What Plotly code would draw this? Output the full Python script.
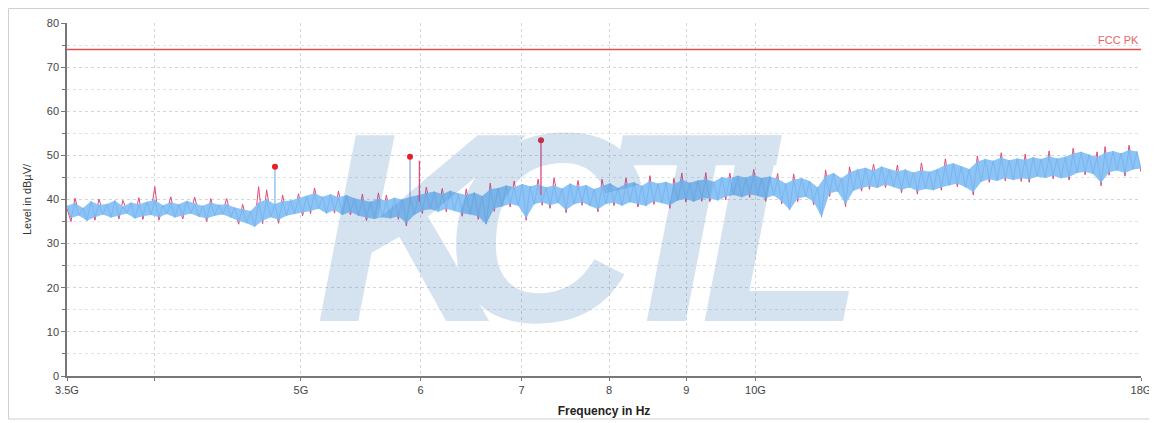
import numpy as np
import plotly.graph_objects as go

# ---------------- data ----------------
F_START_GHZ = 3.5
F_STOP_GHZ = 18.0
FCC_PK_LIMIT = 74.0

BLUE_HI = [38.6, 39.2, 38.1, 39.6, 38.8, 39.0, 39.8, 38.4, 39.3, 38.9,
           39.5, 39.9, 38.7, 39.4, 38.9, 39.7, 39.1, 38.6, 39.3, 38.8,
           38.9, 38.2, 37.8, 37.4, 39.3, 40.0, 39.0, 39.6, 39.8, 40.3,
           40.8, 41.4, 40.6, 41.2, 40.5, 41.0, 40.3, 39.9, 39.5, 40.1,
           39.8, 40.4, 40.0, 40.6, 41.0, 41.5, 41.8, 41.2, 42.0, 41.4,
           41.0, 41.6, 40.8, 42.3, 42.6, 43.2, 42.8, 43.5, 43.0, 43.4,
           42.8, 43.2, 42.5, 43.6, 42.9, 43.3, 42.4, 43.0, 43.7, 42.6,
           43.5, 43.9, 43.1, 44.2, 43.6, 44.0, 43.4, 44.5, 43.8, 44.3,
           44.6, 44.0, 45.1, 44.8, 45.4, 45.0, 45.6, 44.9, 45.2, 44.7,
           43.6, 44.5, 44.9, 44.2, 42.8, 45.3, 46.0, 44.8, 46.2, 46.8,
           47.2, 46.6, 47.5, 46.9, 46.4, 46.8, 46.1, 46.7, 46.3, 46.9,
           47.8, 48.2, 47.5, 46.9, 48.6, 49.2, 48.8, 49.5, 48.9, 49.3,
           49.0, 49.6, 49.2, 49.8, 49.3, 49.7, 50.4, 50.8, 50.2, 49.6,
           50.6, 51.0, 50.5, 51.2, 50.9]
BLUE_LO = [35.8, 36.4, 35.2, 36.0, 36.6, 35.9, 36.3, 36.8, 35.7, 36.2,
           36.5, 36.0, 36.7, 35.9, 36.4, 36.8, 36.1, 35.7, 36.3, 36.6,
           35.9, 35.1, 34.6, 33.8, 35.2, 36.0, 35.4, 36.3, 36.7, 37.0,
           37.4, 37.9, 36.8, 37.6, 36.5, 37.2, 36.3, 35.9, 35.6, 36.0,
           35.7, 36.2, 34.7, 36.5, 37.5, 37.8, 37.2, 37.9, 37.4, 36.9,
           36.6, 36.2, 34.4, 38.0, 38.4, 39.0, 38.6, 35.8, 38.9, 39.4,
           38.7, 39.2, 37.6, 38.9, 39.4, 38.5, 37.8, 39.0, 39.3, 38.6,
           39.4, 39.0, 38.5, 39.6, 39.2, 38.7, 39.8, 40.1, 39.5, 40.3,
           40.2, 39.8, 40.6, 41.0, 40.5, 41.2, 40.8, 40.3, 40.9, 39.6,
           37.6, 40.2, 40.6, 39.5, 36.0, 41.4, 41.8, 39.0, 42.0, 42.6,
           43.0, 42.6, 43.4, 42.8, 42.2, 42.7, 41.9, 42.4, 42.1, 42.8,
           43.2, 43.6, 42.8, 41.7, 44.0, 44.6, 44.2, 44.9, 44.4, 44.8,
           44.6, 45.2, 44.9, 45.4, 44.8, 45.1, 46.0, 46.3, 45.8, 43.8,
           46.2, 46.6, 46.0, 46.8, 47.0]
PEAK_HI = [38.0, 40.3, 37.5, 39.0, 40.1, 38.4, 39.2, 39.8, 38.7, 40.4,
           38.9, 42.9, 38.1, 40.6, 38.3, 39.1, 40.5, 38.0, 40.2, 38.2,
           40.2, 37.6, 38.9, 36.8, 42.9, 42.2, 38.4, 41.0, 39.2, 41.3,
           40.2, 42.6, 40.0, 40.6, 41.9, 40.4, 39.7, 41.2, 38.9, 41.5,
           41.0, 39.8, 39.4, 40.0, 40.4, 42.8, 41.2, 42.5, 41.4, 40.8,
           42.4, 41.0, 40.2, 43.7, 42.0, 42.6, 44.2, 42.9, 42.4, 44.6,
           42.2, 44.9, 41.9, 43.0, 44.3, 42.7, 41.8, 44.6, 43.1, 42.0,
           44.9, 43.3, 42.5, 45.4, 43.0, 43.4, 44.8, 46.0, 43.2, 43.7,
           46.1, 43.4, 44.5, 46.0, 44.8, 44.4, 46.8, 44.3, 44.6, 45.9,
           43.0, 45.8, 44.3, 43.6, 42.2, 46.7, 45.4, 44.2, 47.4, 46.2,
           46.6, 48.0, 46.9, 46.3, 47.8, 46.2, 45.5, 48.3, 45.7, 46.3,
           49.2, 47.6, 46.9, 46.3, 49.9, 48.6, 48.2, 50.6, 48.3, 48.7,
           50.3, 49.0, 48.6, 51.0, 48.7, 49.1, 51.6, 50.2, 49.6, 50.8,
           52.0, 50.4, 49.9, 52.3, 50.3]
PEAK_LO = [35.0, 37.0, 35.8, 35.3, 37.2, 36.5, 35.6, 37.4, 36.3, 35.5,
           37.1, 35.3, 37.3, 36.5, 35.6, 37.4, 36.7, 35.0, 36.9, 37.2,
           36.5, 34.4, 35.2, 34.4, 34.5, 36.6, 34.6, 36.9, 37.3, 36.3,
           36.8, 38.5, 37.4, 36.9, 37.1, 36.5, 36.9, 35.2, 36.2, 36.6,
           36.3, 35.5, 34.0, 37.1, 36.8, 38.4, 37.8, 37.2, 38.0, 36.2,
           37.2, 35.5, 35.0, 37.3, 39.0, 38.3, 39.2, 35.3, 39.5, 38.7,
           38.0, 39.8, 37.0, 39.5, 38.7, 39.1, 37.2, 39.6, 38.6, 39.2,
           40.0, 38.3, 39.1, 38.9, 39.8, 38.0, 40.4, 39.4, 40.1, 39.6,
           39.5, 40.4, 39.9, 41.6, 41.1, 40.5, 41.4, 39.6, 41.5, 39.0,
           38.2, 39.5, 41.2, 38.8, 36.6, 40.7, 42.4, 38.4, 42.6, 41.9,
           42.3, 43.2, 42.7, 43.4, 41.5, 43.3, 41.2, 43.0, 42.7, 42.1,
           43.8, 42.9, 43.4, 41.0, 44.6, 43.9, 44.8, 44.2, 45.0, 44.1,
           43.9, 45.8, 45.5, 44.7, 45.4, 44.4, 46.6, 45.6, 46.4, 43.1,
           45.5, 47.2, 45.3, 47.4, 46.3]

# narrow emission spikes (GHz, base level, top level)
SPIKE_FREQ_GHZ = [4.806, 5.905, 5.99, 7.21]
SPIKE_BASE = [38.0, 38.5, 39.5, 41.0]
SPIKE_TOP = [47.0, 49.4, 48.8, 53.0]

# final peak markers
MARK_FREQ_GHZ = [4.806, 5.905, 7.21]
MARK_LEVEL = [47.4, 49.7, 53.4]

TICK_VALS = [3.5, 4, 5, 6, 7, 8, 9, 10, 18]
TICK_TEXT = ["3.5G", "", "5G", "6", "7", "8", "9", "10G", "18G"]

WATERMARK = "KCTL"

# ---------------- build ----------------
n = len(BLUE_HI)
f_all = np.geomspace(F_START_GHZ, F_STOP_GHZ, 2 * n)
f_hi = f_all[0::2]
f_lo = f_all[1::2]


def interleave(a, b):
    out = []
    for u, v in zip(a, b):
        out += [u, v]
    return out


# page body has an 8px margin, so the figure is sized to fit the window
BODY = 8
W, H = 1157 - BODY, 423 - BODY
ML, MR, MT, MB = 59, 16, 15, 47
PW, PH = W - ML - MR, H - MT - MB


def px(x_abs):
    return (x_abs - BODY - ML) / PW


def py(y_abs):
    return (H - MB - (y_abs - BODY)) / PH


FONT = "Liberation Sans, Arial, sans-serif"

fig = go.Figure()

# peak trace (pink) drawn underneath
fig.add_trace(go.Scatter(x=f_all, y=interleave(PEAK_HI, PEAK_LO), mode="lines",
                         line=dict(color="rgb(226,72,120)", width=1),
                         hoverinfo="skip", showlegend=False))
# blue band
fig.add_trace(go.Scatter(x=f_hi, y=BLUE_HI, mode="lines", line=dict(width=0, color="rgba(0,0,0,0)"),
                         hoverinfo="skip", showlegend=False))
fig.add_trace(go.Scatter(x=f_lo, y=BLUE_LO, mode="lines", line=dict(width=0, color="rgba(0,0,0,0)"),
                         fill="tonexty", fillcolor="rgb(140,196,245)",
                         hoverinfo="skip", showlegend=False))
fig.add_trace(go.Scatter(x=f_all, y=interleave(BLUE_HI, BLUE_LO), mode="lines",
                         line=dict(color="rgb(118,176,238)", width=0.8),
                         hoverinfo="skip", showlegend=False))

# spikes
spike_colors = ["rgb(130,188,240)", "rgb(150,170,220)", "rgb(226,72,120)", "rgb(226,72,120)"]
for f, b, t, c in zip(SPIKE_FREQ_GHZ, SPIKE_BASE, SPIKE_TOP, spike_colors):
    fig.add_trace(go.Scatter(x=[f, f], y=[b, t], mode="lines", line=dict(color=c, width=1.3),
                             hoverinfo="skip", showlegend=False))

# limit line
fig.add_trace(go.Scatter(x=[F_START_GHZ, F_STOP_GHZ], y=[FCC_PK_LIMIT, FCC_PK_LIMIT], mode="lines",
                         line=dict(color="rgb(226,80,80)", width=1.5),
                         hoverinfo="skip", showlegend=False))
# markers
fig.add_trace(go.Scatter(x=MARK_FREQ_GHZ, y=MARK_LEVEL, mode="markers",
                         marker=dict(color="rgb(232,30,40)", size=6),
                         hoverinfo="skip", showlegend=False))

ann = []
ann.append(dict(x=1, xref="paper", y=FCC_PK_LIMIT, yref="y", text="FCC PK", showarrow=False,
                xanchor="right", yanchor="bottom", yshift=1,
                font=dict(family=FONT, size=11, color="rgb(228,100,100)")))

# watermark (one word, tight per-letter spacing, group opacity so overlaps do not darken)
letter_gaps = [-67, -40, -63, 0]
wm_text = "".join('<span style="letter-spacing:%dpx">%s</span>' % (g, ch)
                  for ch, g in zip(WATERMARK, letter_gaps))
ann.append(dict(x=px(590), xref="paper", y=py(227), yref="paper",
                text=wm_text, opacity=0.2,
                showarrow=False, xanchor="center", yanchor="middle",
                font=dict(family="Liberation Sans, Arial", size=270,
                          color="rgb(50,115,180)", weight="bold", style="italic")))

fig.update_layout(
    width=W, height=H,
    margin=dict(l=ML, r=MR, t=MT, b=MB, autoexpand=False),
    paper_bgcolor="white", plot_bgcolor="white",
    font=dict(family=FONT, size=11, color="#333"),
    annotations=ann,
    shapes=[dict(type="rect", xref="paper", yref="paper",
                 x0=px(8.5), x1=px(1152), y0=py(419), y1=py(8.5),
                 line=dict(color="#d0d0d0", width=1), layer="below")],
    xaxis=dict(type="log", range=[np.log10(F_START_GHZ), np.log10(F_STOP_GHZ)],
               automargin=False,
               tickvals=TICK_VALS, ticktext=TICK_TEXT,
               showline=True, linecolor="#777", linewidth=1.5,
               ticks="outside", ticklen=3, tickcolor="#777",
               showgrid=True, gridcolor="#d6d6d6", griddash="dot", gridwidth=1,
               zeroline=False,
               title=dict(text="Frequency in Hz", standoff=12,
                          font=dict(family=FONT, size=12, color="#222", weight="bold")),
               tickfont=dict(family=FONT, size=11, color="#444")),
    yaxis=dict(range=[0, 80], dtick=10, tick0=0,
               automargin=False,
               showline=True, linecolor="#777", linewidth=1.5,
               ticks="outside", ticklen=4, tickcolor="#777",
               showgrid=True, gridcolor="#d6d6d6", griddash="dot", gridwidth=1,
               zeroline=False,
               minor=dict(dtick=5, ticks="outside", ticklen=3, tickcolor="#777",
                          showgrid=True, gridcolor="#e2e2e2", griddash="dot"),
               title=dict(text="Level in dBµV/", standoff=13,
                          font=dict(family=FONT, size=11, color="#333")),
               tickfont=dict(family=FONT, size=11, color="#444")),
)

fig.write_html("out.html")
